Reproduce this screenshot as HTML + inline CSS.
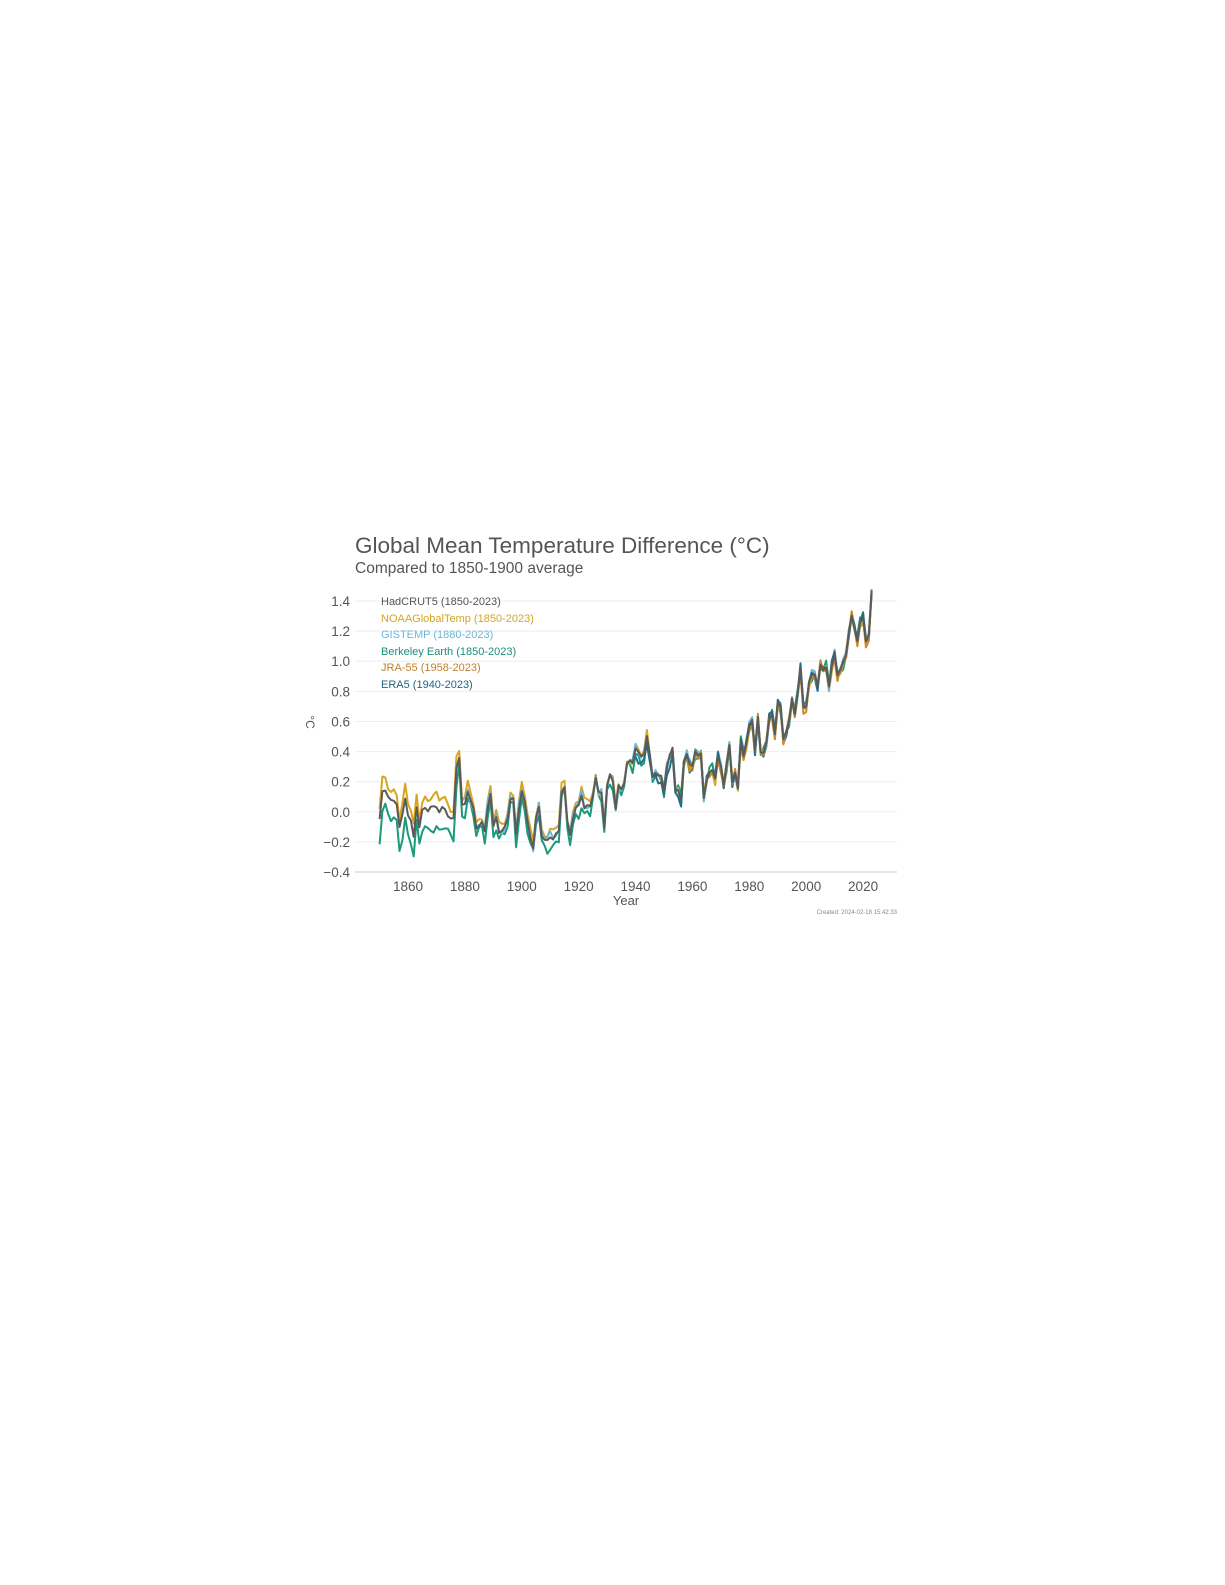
<!DOCTYPE html>
<html><head><meta charset="utf-8"><style>
html,body{margin:0;padding:0;background:#fff;width:1225px;height:1585px;overflow:hidden}
</style></head><body>
<svg id="s" width="1225" height="1585" xmlns="http://www.w3.org/2000/svg" font-family="Liberation Sans, sans-serif">
<text x="355" y="553" font-size="22.5" fill="#555">Global Mean Temperature Difference (°C)</text>
<text x="355" y="573" font-size="15.5" fill="#555">Compared to 1850-1900 average</text>
<g id="grid"></g>
<g id="lines" fill="none" stroke-width="2" stroke-linejoin="round"></g>
<g font-size="11">
<text x="381" y="605" fill="#555">HadCRUT5 (1850-2023)</text>
<text x="381" y="622" fill="#d4a520">NOAAGlobalTemp (1850-2023)</text>
<text x="381" y="638" fill="#6cb6d8">GISTEMP (1880-2023)</text>
<text x="381" y="655" fill="#1a8f78">Berkeley Earth (1850-2023)</text>
<text x="381" y="671" fill="#c08028">JRA-55 (1958-2023)</text>
<text x="381" y="688" fill="#1f6585">ERA5 (1940-2023)</text>
</g>
<text x="626" y="905" font-size="13" fill="#555" text-anchor="middle">Year</text>
<text transform="translate(306,722) rotate(90)" font-size="12" fill="#555" text-anchor="middle">°C</text>
<text x="897" y="914" font-size="6" fill="#888" text-anchor="end">Created: 2024-02-18 15:42:33</text>
</svg>
<script>
var had=[-0.418,-0.233,-0.229,-0.270,-0.291,-0.297,-0.320,-0.471,-0.387,-0.282,-0.394,-0.428,-0.537,-0.340,-0.472,-0.356,-0.344,-0.367,-0.336,-0.333,-0.340,-0.374,-0.338,-0.353,-0.400,-0.414,-0.413,-0.079,-0.010,-0.323,-0.318,-0.238,-0.291,-0.348,-0.483,-0.466,-0.436,-0.500,-0.343,-0.252,-0.465,-0.405,-0.510,-0.496,-0.469,-0.418,-0.288,-0.280,-0.518,-0.349,-0.233,-0.295,-0.432,-0.542,-0.614,-0.411,-0.338,-0.534,-0.556,-0.557,-0.540,-0.554,-0.515,-0.498,-0.239,-0.206,-0.433,-0.524,-0.418,-0.343,-0.324,-0.263,-0.347,-0.325,-0.333,-0.267,-0.145,-0.237,-0.244,-0.476,-0.197,-0.120,-0.166,-0.353,-0.194,-0.220,-0.184,-0.052,-0.027,-0.045,0.052,0.028,-0.001,0.011,0.133,0.009,-0.135,-0.112,-0.129,-0.131,-0.228,-0.074,0.001,0.056,-0.221,-0.227,-0.290,-0.031,0.014,-0.053,-0.066,0.028,0.004,0.018,-0.276,-0.160,-0.108,-0.091,-0.149,0.003,-0.067,-0.190,-0.056,0.074,-0.174,-0.110,-0.215,0.100,0.000,0.091,0.195,0.240,0.035,0.259,0.024,0.021,0.090,0.244,0.282,0.145,0.363,0.322,0.113,0.165,0.233,0.377,0.277,0.422,0.577,0.324,0.331,0.490,0.544,0.544,0.467,0.607,0.572,0.590,0.462,0.596,0.680,0.537,0.578,0.622,0.673,0.825,0.933,0.845,0.763,0.891,0.923,0.762,0.801,1.100];
function X(y){return 379.6+(y-1850)*2.844}
function Y(v){return 811.8-v*150.56}
var ns="http://www.w3.org/2000/svg",g=document.getElementById('grid'),L=document.getElementById('lines');
for(var v=-0.4;v<1.45;v+=0.2){var y=Y(v);var l=document.createElementNS(ns,'line');l.setAttribute('x1',355);l.setAttribute('x2',897);l.setAttribute('y1',y);l.setAttribute('y2',y);l.setAttribute('stroke',Math.abs(v+0.4)<0.01?'#ccc':'#eee');g.appendChild(l);
var t=document.createElementNS(ns,'text');t.setAttribute('x',350);t.setAttribute('y',y+5);t.setAttribute('text-anchor','end');t.setAttribute('font-size','13.5');t.setAttribute('fill','#555');t.textContent=(v<-0.001?'\u22120':'')+(v<-0.001?Math.abs(v).toFixed(1).slice(1):Math.abs(v).toFixed(1));g.appendChild(t);}
for(var yr=1860;yr<=2020;yr+=20){var t=document.createElementNS(ns,'text');t.setAttribute('x',X(yr));t.setAttribute('y',891);t.setAttribute('text-anchor','middle');t.setAttribute('font-size','13.5');t.setAttribute('fill','#555');t.textContent=yr;g.appendChild(t);}
function series(start,col,fn){var d='';for(var y=start;y<=2023;y++){var v=had[y-1850]+0.37+fn(y);d+=(d?'L':'M')+X(y).toFixed(1)+','+Y(v).toFixed(1);}
var p=document.createElementNS(ns,'path');p.setAttribute('d',d);p.setAttribute('stroke',col);L.appendChild(p);}
function nz(y,a){return Math.sin(y*1.7+a)*0.03+Math.sin(y*0.61+a*2)*0.02}
series(1850,'#1a9a7a',function(y){return (y<1878?-0.13:y<1925?-0.05:y<1950?-0.03:0)+nz(y,1)});
series(1850,'#d9a520',function(y){return (y<1878?0.07:y<1925?0.04:y<1950?0.01:-0.01)+nz(y,2)*0.7});
series(1880,'#6cb6d8',function(y){return (y<1925?0.01:0)+nz(y,3)*0.7});
series(1940,'#1f6e8c',function(y){return (y<1960?-0.04:0)+nz(y,4)*0.8});
series(1958,'#c88a2a',function(y){return -0.01+nz(y,5)*0.8});
series(1850,'#5a5a5a',function(y){return 0});
</script>
</body></html>
